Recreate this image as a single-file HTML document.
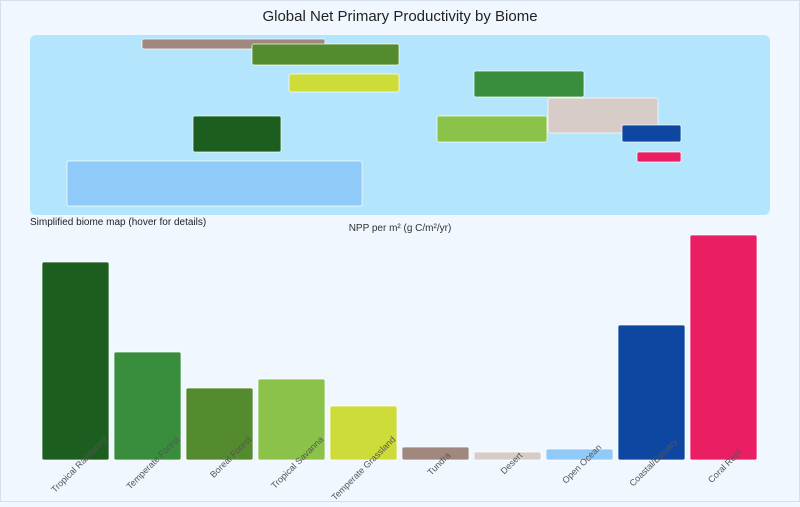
<!DOCTYPE html>
<html><head><meta charset="utf-8"><style>
body{margin:0;width:800px;height:502px;overflow:hidden;background:#f0f7ff;font-family:"Liberation Sans",sans-serif}
</style></head><body>
<svg width="800" height="502" xmlns="http://www.w3.org/2000/svg" font-family="Liberation Sans, sans-serif">
<rect x="0.5" y="0.5" width="799" height="501" fill="#f0f7ff" stroke="#d6e0ea"/>
<text x="400" y="21" text-anchor="middle" font-size="15" fill="#222">Global Net Primary Productivity by Biome</text>
<rect x="30" y="35" width="740" height="180" rx="6" fill="#b3e5fc"/>
<g stroke="#ffffff" stroke-opacity="0.7" stroke-width="1">
<rect x="142" y="39" width="183" height="10" rx="2" fill="#a1887f"/>
<rect x="252" y="44" width="147" height="21" rx="2" fill="#558b2f"/>
<rect x="289" y="74" width="110" height="18" rx="2" fill="#cddc39"/>
<rect x="193" y="116" width="88" height="36" rx="2" fill="#1b5e20"/>
<rect x="67" y="161" width="295" height="45" rx="2" fill="#90caf9"/>
<rect x="474" y="71" width="110" height="26" rx="2" fill="#388e3c"/>
<rect x="548" y="98" width="110" height="35" rx="2" fill="#d7ccc8"/>
<rect x="437" y="116" width="110" height="26" rx="2" fill="#8bc34a"/>
<rect x="622" y="125" width="59" height="17" rx="2" fill="#0d47a1"/>
<rect x="637" y="152" width="44" height="10" rx="2" fill="#e91e63"/>
</g>
<text x="30" y="225" font-size="10" fill="#222">Simplified biome map (hover for details)</text>
<text x="400" y="231" text-anchor="middle" font-size="10" fill="#333">NPP per m² (g C/m²/yr)</text>
<g stroke="#ffffff" stroke-opacity="0.7" stroke-width="1">
<rect x="42" y="262" width="67" height="198" rx="2" fill="#1b5e20"/>
<rect x="114" y="352" width="67" height="108" rx="2" fill="#388e3c"/>
<rect x="186" y="388" width="67" height="72" rx="2" fill="#558b2f"/>
<rect x="258" y="379" width="67" height="81" rx="2" fill="#8bc34a"/>
<rect x="330" y="406" width="67" height="54" rx="2" fill="#cddc39"/>
<rect x="402" y="447" width="67" height="13" rx="2" fill="#a1887f"/>
<rect x="474" y="452" width="67" height="8" rx="2" fill="#d7ccc8"/>
<rect x="546" y="449" width="67" height="11" rx="2" fill="#90caf9"/>
<rect x="618" y="325" width="67" height="135" rx="2" fill="#0d47a1"/>
<rect x="690" y="235" width="67" height="225" rx="2" fill="#e91e63"/>
</g>
<g font-size="9" fill="#555" text-anchor="end">
<text transform="translate(108,440) rotate(-45)">Tropical Rainforest</text>
<text transform="translate(180,440) rotate(-45)">Temperate Forest</text>
<text transform="translate(252,440) rotate(-45)">Boreal Forest</text>
<text transform="translate(324,440) rotate(-45)">Tropical Savanna</text>
<text transform="translate(396,440) rotate(-45)">Temperate Grassland</text>
<text transform="translate(451,456) rotate(-45)">Tundra</text>
<text transform="translate(523,456) rotate(-45)">Desert</text>
<text transform="translate(602,448) rotate(-45)">Open Ocean</text>
<text transform="translate(678,442) rotate(-45)">Coastal/Estuary</text>
<text transform="translate(742,453) rotate(-45)">Coral Reef</text>
</g>
</svg>
</body></html>
